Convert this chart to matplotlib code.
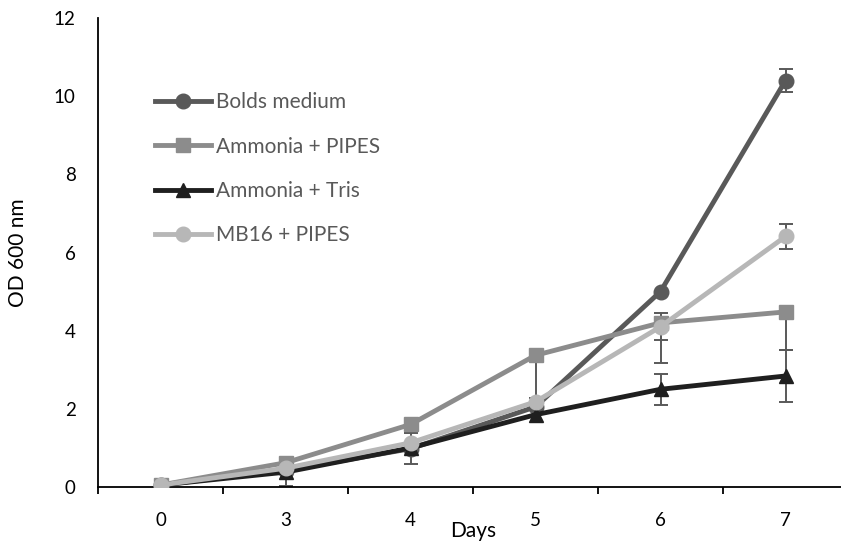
import matplotlib
matplotlib.use("Agg")
import matplotlib.pyplot as plt
import numpy as np

plt.rcParams['font.family'] = ['Lato', 'DejaVu Sans']

# Sampling days (categorical axis)
days = ['0', '3', '4', '5', '6', '7']

# OD600 readings per medium
bolds = [0.05, 0.42, 0.98, 2.05, 5.0, 10.4]
pipes = [0.05, 0.62, 1.60, 3.37, 4.20, 4.48]
tris = [0.05, 0.38, 1.00, 1.85, 2.50, 2.84]
mb16 = [0.05, 0.48, 1.13, 2.18, 4.10, 6.41]

# Error bars (lower, upper)
bolds_err_lo = [0, 0.40, 0.40, 0, 0, 0.30]
bolds_err_hi = [0, 0, 0.40, 0, 0, 0.30]
pipes_err_lo = [0, 0, 0, 1.10, 1.02, 0.98]
pipes_err_hi = [0, 0, 0, 0, 0, 0]
tris_err_lo = [0, 0, 0, 0, 0.40, 0.66]
tris_err_hi = [0, 0, 0, 0, 0.40, 0.66]
mb16_err_lo = [0, 0, 0, 0, 0.34, 0.31]
mb16_err_hi = [0, 0, 0, 0, 0.34, 0.31]

labels = ['Bolds medium', 'Ammonia + PIPES', 'Ammonia + Tris', 'MB16 + PIPES']
colors = ['#595959', '#8c8c8c', '#1f1f1f', '#b7b7b7']
markers = ['o', 's', '^', 'o']

W, H = 841, 542
fig = plt.figure(figsize=(W / 100, H / 100), dpi=100)
ax = fig.add_axes([98 / W, 55 / H, 750 / W, 469 / H])

# category centres sit between the tick marks
x = np.arange(len(days)) + 0.5
series = [bolds, pipes, tris, mb16]
errs = [(bolds_err_lo, bolds_err_hi), (pipes_err_lo, pipes_err_hi),
        (tris_err_lo, tris_err_hi), (mb16_err_lo, mb16_err_hi)]

for vals, (lo, hi) in zip(series, errs):
    lo = np.array(lo)
    hi = np.array(hi)
    mask = (lo + hi) > 0
    ax.errorbar(x[mask], np.array(vals)[mask], yerr=[lo[mask], hi[mask]],
                fmt='none', ecolor='#595959', elinewidth=1.4, capsize=5,
                capthick=1.4, zorder=2)

for i, (vals, lab, c, m) in enumerate(zip(series, labels, colors, markers)):
    ax.plot(x, vals, color=c, lw=3.5, marker=m, markersize=10.5, mew=1,
            markerfacecolor=c, markeredgecolor=c, label=lab, zorder=3 + i)

ax.set_xlim(0, 6)
ax.set_ylim(0, 12)
ax.set_yticks(np.arange(0, 13, 2))
ax.set_xticks(np.arange(0, 7))
ax.set_xticklabels([])
ax.set_xticks(x, minor=True)
ax.set_xticklabels(days, minor=True)

for s in ['top', 'right']:
    ax.spines[s].set_visible(False)
for s in ['left', 'bottom']:
    ax.spines[s].set_color('black')
    ax.spines[s].set_linewidth(1.3)

ax.tick_params(axis='y', length=0, pad=16, labelsize=13.5, labelcolor='black')
ax.tick_params(axis='x', which='major', length=5, width=1.3, direction='out')
ax.tick_params(axis='x', which='minor', length=0, pad=18,
               labelsize=13.5, labelcolor='black')

ax.set_ylabel('OD 600 nm', fontsize=15, color='black', va='center')
ax.yaxis.set_label_coords(-0.107, 0.5)
ax.set_xlabel('Days', fontsize=15, color='black', va='center')
ax.xaxis.set_label_coords(0.5, -0.094)

leg = ax.legend(loc='upper left', bbox_to_anchor=(147 / W, 1 - 84 / H),
                bbox_transform=fig.transFigure, frameon=False,
                fontsize=15, handlelength=2.65, handletextpad=0.25,
                labelspacing=1.17, borderaxespad=0)
for t in leg.get_texts():
    t.set_color('#595959')

fig.savefig('out.png', dpi=100)
